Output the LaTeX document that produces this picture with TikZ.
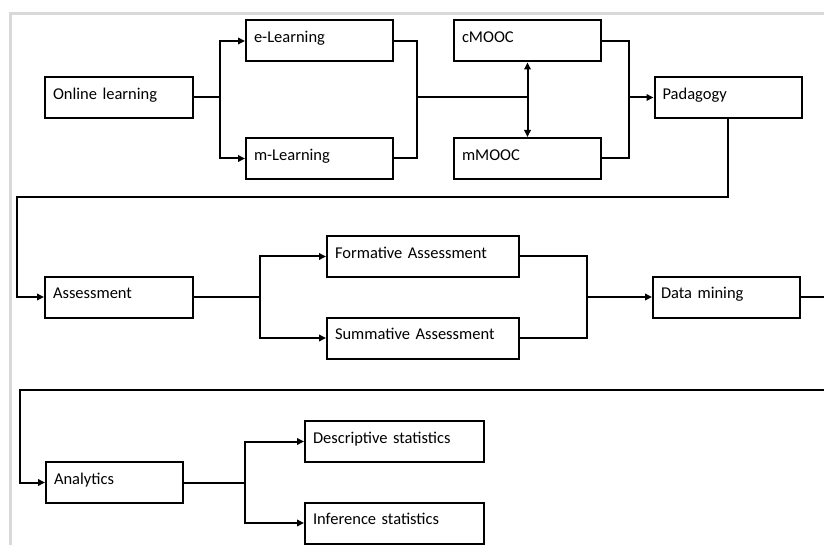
\documentclass[tikz,border=0pt]{standalone}
\usepackage{fontspec}
\setmainfont{Carlito}[WordSpace=0.85]
\usetikzlibrary{arrows.meta}

\begin{document}
\begin{tikzpicture}[x=1pt,y=-1pt,
    box/.style={draw=black, line width=2pt, minimum height=41pt, inner sep=0pt,
                font=\fontsize{16.5}{18}\selectfont, align=left,
                text height=11pt, text depth=7.5pt},
    link/.style={line width=2pt},
    >={Triangle[length=7pt,width=6.5pt]}]
    \useasboundingbox (0,0) rectangle (824,545);
    \draw [gray!30, line width=3pt] (10,560) -- (10,13.5) -- (840,13.5);
    % boxes
    \node [box, minimum width=148pt, text width=132pt] (online) at (119,97.5) {Online learning};
    \node [box, minimum width=147pt, text width=131pt] (elearn) at (319.5,41) {e-Learning};
    \node [box, minimum width=147pt, text width=131pt] (mlearn) at (319.5,158.5) {m-Learning};
    \node [box, minimum width=147pt, text width=131pt] (cmooc) at (527.5,41) {cMOOC};
    \node [box, minimum width=147pt, text width=131pt] (mmooc) at (527.5,158.5) {mMOOC};
    \node [box, minimum width=147pt, text width=131pt] (padagogy) at (728,97.5) {Padagogy};
    \node [box, minimum width=148pt, text width=132pt] (assess) at (119,297) {Assessment};
    \node [box, minimum width=192pt, text width=176pt] (formative) at (423,256.5) {Formative Assessment};
    \node [box, minimum width=192pt, text width=176pt] (summative) at (423,338) {Summative Assessment};
    \node [box, minimum width=147pt, text width=131pt] (datamining) at (726.5,297) {Data mining};
    \node [box, minimum width=137pt, text width=121pt] (analytics) at (114.5,482.5) {Analytics};
    \node [box, minimum width=179pt, text width=163pt] (descriptive) at (394.5,441.5) {Descriptive statistics};
    \node [box, minimum width=179pt, text width=163pt] (inference) at (394.5,523) {Inference statistics};
    % turning points
    \coordinate (turn1) at (17,197.5);
    \coordinate (turn2) at (840,390);
    \coordinate (turn3) at (20,390);
    % first row
    \draw [link] (online.east) -- ++(26,0) coordinate (j1);
    \draw [link,->] (j1) |- (elearn.west);
    \draw [link,->] (j1) |- (mlearn.west);
    \draw [link] (elearn.east) -- ++(23,0) coordinate (j2) |- (mlearn.east);
    \draw [link] (j2 |- online) -- (cmooc.south |- online);
    \draw [link,<->] (cmooc.south) -- (mmooc.north);
    \draw [link] (cmooc.east) -- ++(27,0) coordinate (j3) |- (mmooc.east);
    \draw [link,->] (j3 |- padagogy) -- (padagogy.west);
    \draw [link,->] (padagogy.south) |- (turn1) |- (assess.west);
    % second row
    \draw [link] (assess.east) -- ++(66,0) coordinate (j4);
    \draw [link,->] (j4) |- (formative.west);
    \draw [link,->] (j4) |- (summative.west);
    \draw [link] (formative.east) -- ++(67,0) coordinate (j5) |- (summative.east);
    \draw [link,->] (j5 |- datamining) -- (datamining.west);
    \draw [link,->] (datamining.east) -| (turn2) -- (turn3) |- (analytics.west);
    % third row
    \draw [link] (analytics.east) -- ++(61,0) coordinate (j6);
    \draw [link,->] (j6) |- (descriptive.west);
    \draw [link,->] (j6) |- (inference.west);
\end{tikzpicture}
\end{document}
